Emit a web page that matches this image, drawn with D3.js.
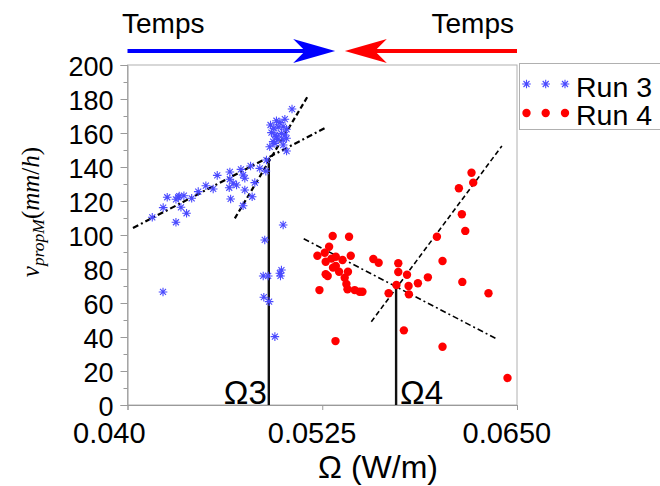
<!DOCTYPE html>
<html><head><meta charset="utf-8">
<script src="https://cdn.jsdelivr.net/npm/d3@7"></script>
<style>body{margin:0;background:#fff;} svg{display:block;}</style>
</head><body>
<svg id="c" width="660" height="486"></svg>
<script>
// ---- data ----
const run3X = [0.05056,0.04956,0.04978,0.05010,0.04918,0.04939,0.04967,0.04999,0.05021,0.04924,0.04946,0.04956,0.04988,0.05010,0.04935,0.04967,0.04999,0.05021,0.04913,0.04946,0.04999,0.05021,0.04892,0.04849,0.04888,0.04790,0.04728,0.04657,0.04576,0.04742,0.04753,0.04657,0.04678,0.04700,0.04653,0.04817,0.04503,0.04550,0.04454,0.04753,0.04412,0.04362,0.04332,0.04326,0.04311,0.04255,0.04662,0.04800,0.04742,0.04229,0.04343,0.04379,0.04159,0.04311,0.04999,0.04881,0.04871,0.04903,0.04988,0.04978,0.04982,0.04875,0.04909,0.04946,0.04228];
const run3Y = [174.1,167.2,166.1,168.1,164.7,162.8,163.4,163.7,162.2,160.2,158.8,157.8,159.8,158.8,154.9,156.3,155.9,156.9,151.9,153.9,152.9,149.4,144.1,139.2,137.6,140.6,138.6,137.1,135.1,135.3,133.4,132.8,130.4,129.4,127.8,130.8,129.0,127.1,125.5,126.5,121.6,123.1,122.9,122.2,121.0,122.2,121.2,122.5,117.2,116.1,116.3,112.8,110.4,107.5,105.9,97.1,75.9,75.9,79.4,77.5,75.9,63.4,60.8,40.2,66.5];
const run4X = [0.06208,0.06219,0.06127,0.06146,0.06168,0.05986,0.06022,0.06149,0.06317,0.05317,0.05422,0.05294,0.05266,0.05219,0.05272,0.05309,0.05337,0.05380,0.05433,0.05319,0.05337,0.05358,0.05415,0.05272,0.05285,0.05394,0.05405,0.05412,0.05232,0.05458,0.05490,0.05508,0.05578,0.05612,0.05738,0.05738,0.05794,0.05804,0.05806,0.05726,0.05676,0.05864,0.05928,0.05774,0.05335,0.06022,0.06439];
const run4Y = [136.6,130.8,127.5,112.2,102.4,99.0,84.7,72.4,65.7,99.4,99.0,93.1,89.6,87.8,84.3,86.1,87.2,85.3,87.8,80.8,81.8,78.4,78.4,76.9,75.9,74.9,71.2,68.1,67.6,67.6,66.6,66.6,85.9,83.7,83.4,78.2,76.6,70.0,65.1,70.6,65.7,71.6,75.1,43.9,37.6,34.3,15.9];
// fitted lines (endpoints) and break points
const fit3Shallow = [[0.04035,104.1],[0.05279,163.5]];
const fit3Steep   = [[0.04689,109.8],[0.05153,181.0]];
const fit4Shallow = [[0.05131,97.8],[0.06371,38.8]];
const fit4Steep   = [[0.05565,49.0],[0.06403,152.4]];
const omegaX = [0.04907, 0.05724];
const omegaY = [145.3, 70.2];
const omegaLabels = ["Ω3","Ω4"];
const xTicks = [0.040, 0.0525, 0.065];
const xTickLabels = ["0.040","0.0525","0.0650"];
const yTicks = [0,20,40,60,80,100,120,140,160,180,200];
const yMinor = [10,30,50,70,90,110,130,150,170,190];
const seriesNames = ["Run 3","Run 4"];

// ---- layout ----
const svg = d3.select("#c");
const L = 127.5, R = 517, T = 65, B = 405;
const x = d3.scaleLinear().domain([0.040,0.065]).range([L,R]);
const y = d3.scaleLinear().domain([0,200]).range([B,T]);
const font = "'Liberation Sans', Arial, sans-serif";
const grey = "#9a9a9a";

// frame
svg.append("rect").attr("x",L).attr("y",T).attr("width",R-L).attr("height",B-T)
  .attr("fill","none").attr("stroke","#b0b0b0").attr("stroke-width",1);

// y axis
const yAx = svg.append("g").attr("transform",`translate(${L},0)`)
  .call(d3.axisLeft(y).tickValues(yTicks).tickSize(7).tickFormat(d3.format("d")));
yAx.select(".domain").attr("stroke",grey);
yAx.selectAll(".tick line").attr("stroke",grey);
yAx.selectAll(".tick text").attr("font-family",font).attr("font-size",27).attr("fill","#000")
  .attr("x",-14).attr("dy","0.4em");
svg.append("g").attr("transform",`translate(${L},0)`)
  .call(d3.axisLeft(y).tickValues(yMinor).tickSize(4).tickFormat(""))
  .call(g=>{g.select(".domain").remove(); g.selectAll("line").attr("stroke",grey);});

// x axis
const xAx = svg.append("g").attr("transform",`translate(0,${B})`)
  .call(d3.axisBottom(x).tickValues(xTicks).tickSize(5).tickFormat((d,i)=>xTickLabels[i]));
xAx.select(".domain").attr("stroke",grey);
xAx.selectAll(".tick line").attr("stroke",grey);
xAx.selectAll(".tick text").attr("font-family",font).attr("font-size",29).attr("fill","#000")
  .attr("text-anchor","start").attr("x",-55).attr("y",38).attr("dy",0);

// fit lines
const line = d3.line().x(d=>x(d[0])).y(d=>y(d[1]));
function fit(data, dash, w){
  svg.append("path").datum(data).attr("d",line).attr("fill","none")
    .attr("stroke","#000").attr("stroke-width",w).attr("stroke-dasharray",dash);
}
fit(fit3Shallow,"6,3,2,3",2.2);
fit(fit3Steep,"5,3",2.2);
fit(fit4Shallow,"6,3,2,3",1.6);
fit(fit4Steep,"5,3",1.6);

// vertical Ω lines
omegaX.forEach((ox,i)=>{
  svg.append("line").attr("x1",x(ox)).attr("x2",x(ox)).attr("y1",y(omegaY[i])).attr("y2",y(0))
    .attr("stroke","#111").attr("stroke-width",2.4);
  svg.append("text").attr("x",x(ox)+(i===0?-2:4)).attr("y",B-1)
    .attr("text-anchor",i===0?"end":"start").attr("font-family",font).attr("font-size",33)
    .attr("fill","#000").text(omegaLabels[i]);
});

// markers
const star = "M-4.3,0H4.3M0,-4.3V4.3M-3,-3L3,3M-3,3L3,-3";
const blue = "#4a4aff";
svg.append("g").selectAll("path").data(run3X).join("path")
  .attr("transform",(d,i)=>`translate(${x(d)},${y(run3Y[i])})`)
  .attr("d",star).attr("stroke",blue).attr("stroke-width",1.1).attr("fill","none");
svg.append("g").selectAll("circle").data(run4X).join("circle")
  .attr("cx",d=>x(d)).attr("cy",(d,i)=>y(run4Y[i])).attr("r",4.2).attr("fill","#ff0000");

// axis titles
svg.append("text").attr("x",378).attr("y",478).attr("text-anchor","middle")
  .attr("font-family",font).attr("font-size",32).attr("fill","#000").text("Ω (W/m)");
const yt = svg.append("text").attr("transform","translate(39,212) rotate(-90)")
  .attr("text-anchor","middle").attr("font-family","'Liberation Serif','Times New Roman',serif")
  .attr("font-size",25).attr("fill","#000");
yt.append("tspan").attr("font-style","italic").text("v");
yt.append("tspan").attr("font-style","italic").attr("font-size",17.5).attr("dy",5).text("propM");
yt.append("tspan").attr("dy",-5).text("(");
yt.append("tspan").attr("font-style","italic").text("mm");
yt.append("tspan").text("/");
yt.append("tspan").attr("font-style","italic").text("h");
yt.append("tspan").text(")");

// time arrows
const ay = 51;
const bx0 = x(0.0400), bx1 = x(0.05333);
svg.append("line").attr("x1",bx0).attr("x2",bx1-30).attr("y1",ay).attr("y2",ay)
  .attr("stroke","#0000ff").attr("stroke-width",4);
svg.append("path").attr("d",`M${bx1},${ay}L${bx1-42},${ay-12}L${bx1-30},${ay}L${bx1-42},${ay+12}Z`).attr("fill","#0000ff");
const rx0 = x(0.0650), rx1 = x(0.05395);
svg.append("line").attr("x1",rx0).attr("x2",rx1+30).attr("y1",ay).attr("y2",ay)
  .attr("stroke","#ff0000").attr("stroke-width",4);
svg.append("path").attr("d",`M${rx1},${ay}L${rx1+42},${ay-12}L${rx1+30},${ay}L${rx1+42},${ay+12}Z`).attr("fill","#ff0000");
svg.append("text").attr("x",122).attr("y",33).attr("font-family",font).attr("font-size",28).text("Temps");
svg.append("text").attr("x",514).attr("y",33).attr("text-anchor","end").attr("font-family",font).attr("font-size",28).text("Temps");

// legend
const lg = svg.append("g");
lg.append("rect").attr("x",519.5).attr("y",63.5).attr("width",150).attr("height",66)
  .attr("fill","#fff").attr("stroke","#b0b0b0");
const lgX = [526.5,545.7,565];
lgX.forEach(lx=>{
  lg.append("path").attr("transform",`translate(${lx},84)`).attr("d",star).attr("stroke",blue).attr("stroke-width",1.1).attr("fill","none");
  lg.append("circle").attr("cx",lx).attr("cy",113).attr("r",4.2).attr("fill","#ff0000");
});
lg.append("text").attr("x",576).attr("y",97).attr("font-family",font).attr("font-size",28.5).text(seriesNames[0]);
lg.append("text").attr("x",576).attr("y",125).attr("font-family",font).attr("font-size",28.5).text(seriesNames[1]);
</script>
</body></html>
